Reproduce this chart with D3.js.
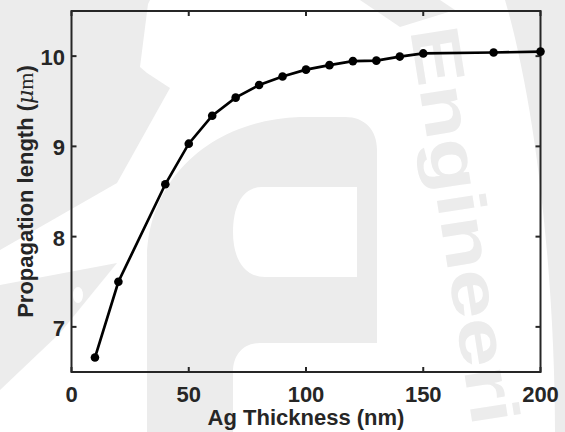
<!DOCTYPE html>
<html>
<head>
<meta charset="utf-8">
<script src="https://cdn.jsdelivr.net/npm/d3@7"></script>
<style>
  body { margin: 0; background: #fff; }
  svg text { font-family: "Liberation Sans", Arial, sans-serif; font-weight: bold; fill: #262626; }
</style>
</head>
<body>
<svg id="chart" width="565" height="432"></svg>
<script>
// Ag thickness (nm) vs propagation length (um)
var thickness = [10, 20, 40, 50, 60, 70, 80, 90, 100, 110, 120, 130, 140, 150, 180, 200];
var propLength = [6.66, 7.50, 8.58, 9.03, 9.34, 9.54, 9.68, 9.775, 9.85, 9.90, 9.945, 9.95, 9.995, 10.03, 10.04, 10.05];
var xTicks = [0, 50, 100, 150, 200];
var yTicks = [7, 8, 9, 10];

var svg = d3.select("#chart");
var margin = {left: 71.5, right: 24.5, top: 11, bottom: 60};
var W = 565, H = 432;

var x = d3.scaleLinear().domain([0, 200]).range([margin.left, W - margin.right]);
var y = d3.scaleLinear().domain([6.5, 10.5]).range([H - margin.bottom, margin.top]);

// faint logo watermark behind the plot
var wm = svg.append("g").attr("fill", "#ececec");
wm.append("path").attr("d", "M0,0 L150,0 L148,4 L140,67 L147,73 L170,88 L117,183 L0,250 Z");
wm.append("path").attr("d", "M0,285 L117,263 L60,333 L0,390 Z");
wm.append("ellipse").attr("cx", 78).attr("cy", 295).attr("rx", 5).attr("ry", 8).attr("fill", "#fff");
wm.append("path").attr("d", "M360,0 L440,0 L455,10 L400,27 Z");
wm.append("path").attr("d", "M505,0 L565,0 L565,432 L555,432 C555,300 540,120 505,0 Z");
// big "e"
wm.append("path").attr("d", "M147,432 L147,260 C147,180 210,120 300,117 L345,117 C365,117 377,130 377,150 L377,343 L260,343 C243,343 233,355 233,372 L233,432 Z");
wm.append("path").attr("fill", "#fff").attr("d", "M357,187 L262,187 C243,187 233,205 233,232 C233,260 245,277 265,277 L357,277 Z");
wm.append("text")
    .attr("transform", "translate(410,30) rotate(81) scale(1.3,1)")
    .style("font-size", "68px")
    .style("fill", "#ececec")
    .text("Engineeri");

var g = svg.append("g");

// box
g.append("rect")
    .attr("x", x(0)).attr("y", y(10.5))
    .attr("width", x(200) - x(0)).attr("height", y(6.5) - y(10.5))
    .attr("fill", "none").attr("stroke", "#262626").attr("stroke-width", 2);

// inward ticks on all four sides
var tl = 5;
xTicks.forEach(function(t) {
    g.append("line").attr("x1", x(t)).attr("x2", x(t)).attr("y1", y(6.5)).attr("y2", y(6.5) - tl)
        .attr("stroke", "#262626").attr("stroke-width", 2);
    g.append("line").attr("x1", x(t)).attr("x2", x(t)).attr("y1", y(10.5)).attr("y2", y(10.5) + tl)
        .attr("stroke", "#262626").attr("stroke-width", 2);
    g.append("text").attr("x", x(t)).attr("y", 401.5)
        .attr("text-anchor", "middle").style("font-size", "22px").text(t);
});
yTicks.forEach(function(t) {
    g.append("line").attr("x1", x(0)).attr("x2", x(0) + tl).attr("y1", y(t)).attr("y2", y(t))
        .attr("stroke", "#262626").attr("stroke-width", 2);
    g.append("line").attr("x1", x(200)).attr("x2", x(200) - tl).attr("y1", y(t)).attr("y2", y(t))
        .attr("stroke", "#262626").attr("stroke-width", 2);
    g.append("text").attr("x", 65).attr("y", y(t) + 9)
        .attr("text-anchor", "end").style("font-size", "22px").text(t);
});

// axis labels
g.append("text").attr("x", 306).attr("y", 425)
    .attr("text-anchor", "middle").style("font-size", "22px").text("Ag Thickness (nm)");

var yl = g.append("text")
    .attr("transform", "translate(33," + ((y(6.5) + y(10.5)) / 2) + ") rotate(-90)")
    .attr("text-anchor", "middle").style("font-size", "22px");
yl.append("tspan").text("Propagation length (");
yl.append("tspan").style("font-family", "'DejaVu Serif', 'Liberation Serif', serif")
    .style("font-style", "italic").style("font-weight", "normal").text("\u03bc");
yl.append("tspan").style("font-family", "'Liberation Serif', serif")
    .style("font-weight", "normal").text("m");
yl.append("tspan").text(")");

// data line and markers
var pts = thickness.map(function(d, i) { return [d, propLength[i]]; });
g.append("path")
    .datum(pts)
    .attr("fill", "none").attr("stroke", "#000").attr("stroke-width", 2.7)
    .attr("d", d3.line().x(function(d) { return x(d[0]); }).y(function(d) { return y(d[1]); }));
g.selectAll(".dot").data(pts).enter().append("circle")
    .attr("class", "dot")
    .attr("cx", function(d) { return x(d[0]); })
    .attr("cy", function(d) { return y(d[1]); })
    .attr("r", 4.3).attr("fill", "#000");
</script>
</body>
</html>
